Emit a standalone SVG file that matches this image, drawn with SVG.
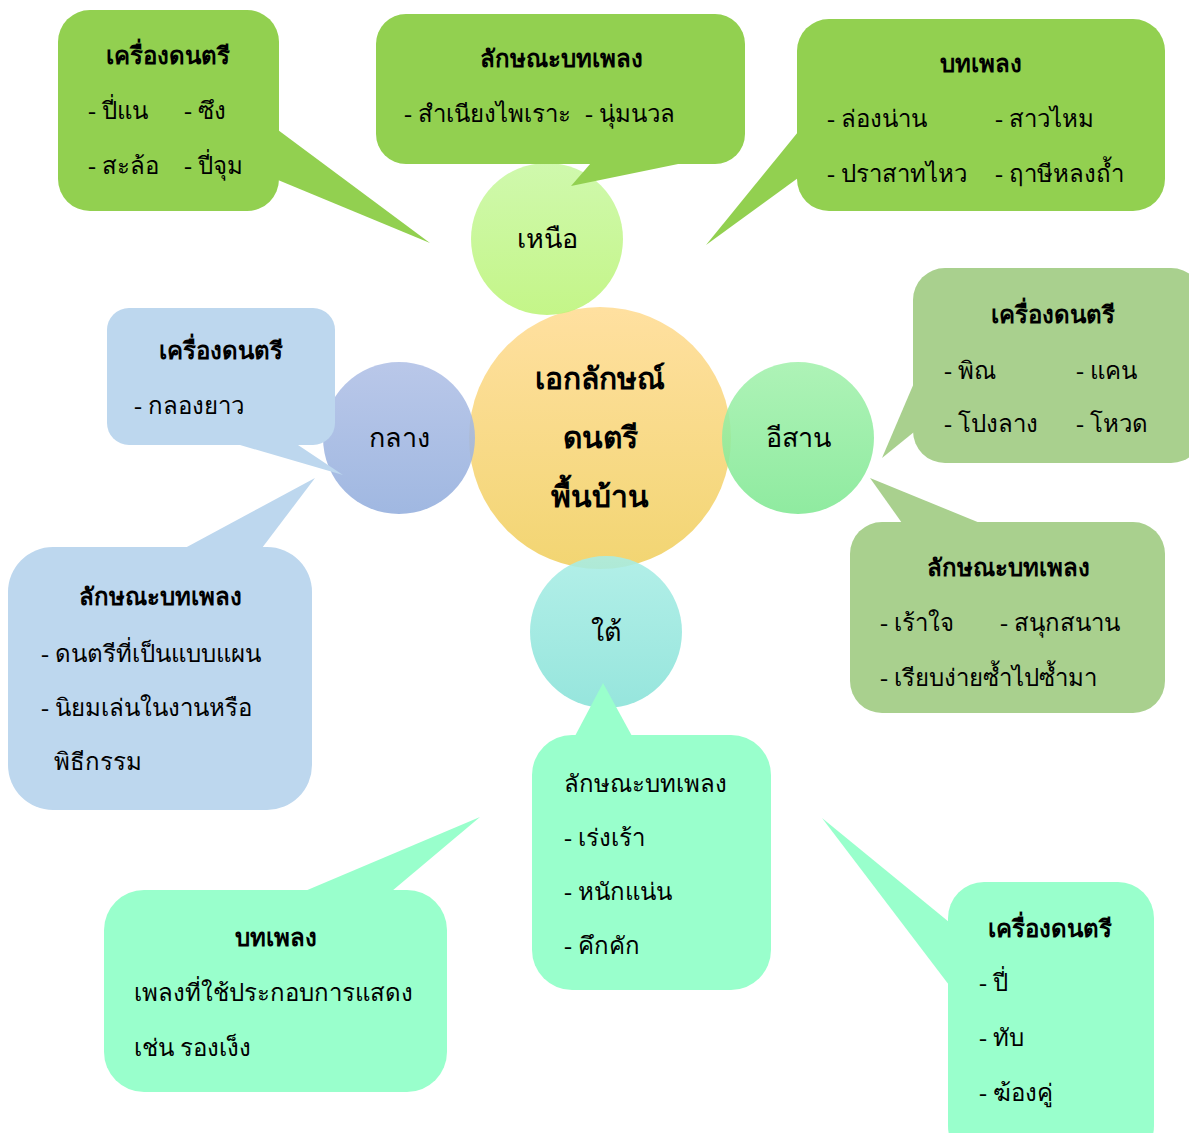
<svg xmlns="http://www.w3.org/2000/svg" width="1189" height="1133" viewBox="0 0 1189 1133">
<defs>
<linearGradient id="gC" x1="0" y1="0" x2="0" y2="1"><stop offset="0" stop-color="#FFE0A0"/><stop offset="1" stop-color="#F2D572"/></linearGradient>
<linearGradient id="gN" x1="0" y1="0" x2="0" y2="1"><stop offset="0" stop-color="#C9F8A2"/><stop offset="1" stop-color="#BCF478"/></linearGradient>
<linearGradient id="gM" x1="0" y1="0" x2="0" y2="1"><stop offset="0" stop-color="#B0C0E6"/><stop offset="1" stop-color="#93AEDD"/></linearGradient>
<linearGradient id="gE" x1="0" y1="0" x2="0" y2="1"><stop offset="0" stop-color="#A3F1AD"/><stop offset="1" stop-color="#80E893"/></linearGradient>
<linearGradient id="gS" x1="0" y1="0" x2="0" y2="1"><stop offset="0" stop-color="#A8EDE5"/><stop offset="1" stop-color="#88E2D8"/></linearGradient>
</defs>
<style>
text{font-family:"Liberation Serif","Noto Sans",serif;fill:#000;}
.t{font-size:24px;font-weight:bold;text-anchor:middle;}
.b{font-size:24px;}
.c{font-size:27px;text-anchor:middle;}
.h{font-size:30px;font-weight:bold;text-anchor:middle;}
.n{fill:#92D050;}
.m{fill:#BDD7EE;}
.e{fill:#A9D08E;}
.s{fill:#99FFCC;}
.sc{opacity:0.88;}
</style>
<g id="nodes-circles">
<g id="center"><circle cx="600" cy="438" r="131" fill="url(#gC)"/><text class="h" x="600" y="389">เอกลักษณ์</text><text class="h" x="600" y="448">ดนตรี</text><text class="h" x="600" y="507">พื้นบ้าน</text></g>
<g id="north"><circle class="sc" cx="547" cy="239" r="76" fill="url(#gN)"/><text class="c" x="547" y="248">เหนือ</text></g>
<g id="central"><circle class="sc" cx="399" cy="438" r="76" fill="url(#gM)"/><text class="c" x="399" y="447">กลาง</text></g>
<g id="northeast"><circle class="sc" cx="798" cy="438" r="76" fill="url(#gE)"/><text class="c" x="798" y="447">อีสาน</text></g>
<g id="south"><circle class="sc" cx="606" cy="632" r="76" fill="url(#gS)"/><text class="c" x="606" y="641">ใต้</text></g>
</g>
<g id="connectors">
<polygon class="n" points="278,130 430,243 278,180"/>
<polygon class="n" points="591,163 571,186 683,163"/>
<polygon class="n" points="798,132 706,245 798,178"/>
<polygon class="m" points="240,445 343,475 298,445"/>
<polygon class="m" points="185,548 315,478 262,548"/>
<polygon class="e" points="914,383 882,458 914,432"/>
<polygon class="e" points="902,523 870,478 980,523"/>
<polygon class="s" points="575,736 603,683 632,736"/>
<polygon class="s" points="305,891 480,817 392,891"/>
<polygon class="s" points="949,922 822,818 949,985"/>
</g>
<g id="north-instruments"><rect class="n" x="58" y="10" width="221" height="201" rx="32"/>
<text class="t" x="168" y="64">เครื่องดนตรี</text>
<text class="b" x="88" y="119">- ปี่แน</text><text class="b" x="184" y="119">- ซึง</text>
<text class="b" x="88" y="174">- สะล้อ</text><text class="b" x="184" y="174">- ปี่จุม</text></g>
<g id="north-style"><rect class="n" x="376" y="14" width="369" height="150" rx="30"/>
<text class="t" x="561" y="67">ลักษณะบทเพลง</text>
<text class="b" x="404" y="122">- สำเนียงไพเราะ</text><text class="b" x="585" y="122">- นุ่มนวล</text></g>
<g id="north-songs"><rect class="n" x="797" y="19" width="368" height="192" rx="32"/>
<text class="t" x="981" y="72">บทเพลง</text>
<text class="b" x="827" y="127">- ล่องน่าน</text><text class="b" x="995" y="127">- สาวไหม</text>
<text class="b" x="827" y="182">- ปราสาทไหว</text><text class="b" x="995" y="182">- ฤาษีหลงถ้ำ</text></g>
<g id="central-instruments"><rect class="m" x="107" y="308" width="228" height="137" rx="22"/>
<text class="t" x="221" y="359">เครื่องดนตรี</text>
<text class="b" x="134" y="414">- กลองยาว</text></g>
<g id="central-style"><rect class="m" x="8" y="547" width="304" height="263" rx="45"/>
<text class="t" x="160" y="605">ลักษณะบทเพลง</text>
<text class="b" x="41" y="662">- ดนตรีที่เป็นแบบแผน</text>
<text class="b" x="41" y="716">- นิยมเล่นในงานหรือ</text>
<text class="b" x="54" y="770">พิธีกรรม</text></g>
<g id="northeast-instruments"><rect class="e" x="913" y="268" width="290" height="195" rx="32"/>
<text class="t" x="1053" y="323">เครื่องดนตรี</text>
<text class="b" x="944" y="379">- พิณ</text><text class="b" x="1076" y="379">- แคน</text>
<text class="b" x="944" y="432">- โปงลาง</text><text class="b" x="1076" y="432">- โหวด</text></g>
<g id="northeast-style"><rect class="e" x="850" y="522" width="315" height="191" rx="32"/>
<text class="t" x="1008" y="576">ลักษณะบทเพลง</text>
<text class="b" x="880" y="631">- เร้าใจ</text><text class="b" x="1000" y="631">- สนุกสนาน</text>
<text class="b" x="880" y="686">- เรียบง่ายซ้ำไปซ้ำมา</text></g>
<g id="south-style"><rect class="s" x="532" y="735" width="239" height="255" rx="40"/>
<text class="b" x="564" y="792">ลักษณะบทเพลง</text>
<text class="b" x="564" y="846">- เร่งเร้า</text>
<text class="b" x="564" y="900">- หนักแน่น</text>
<text class="b" x="564" y="954">- คึกคัก</text></g>
<g id="south-songs"><rect class="s" x="104" y="890" width="343" height="202" rx="40"/>
<text class="t" x="276" y="946">บทเพลง</text>
<text class="b" x="134" y="1001">เพลงที่ใช้ประกอบการแสดง</text>
<text class="b" x="134" y="1056">เช่น รองเง็ง</text></g>
<g id="south-instruments"><rect class="s" x="948" y="882" width="206" height="280" rx="36"/>
<text class="t" x="1050" y="937">เครื่องดนตรี</text>
<text class="b" x="979" y="991">- ปี่</text>
<text class="b" x="979" y="1046">- ทับ</text>
<text class="b" x="979" y="1101">- ฆ้องคู่</text></g>
</svg>
